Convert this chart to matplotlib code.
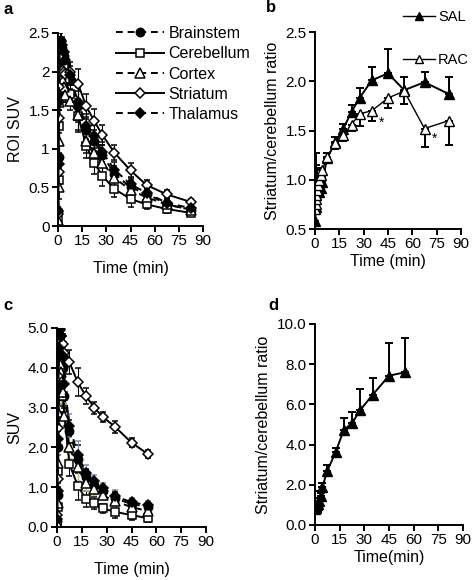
import matplotlib
import numpy as np

matplotlib.use("Agg")
import matplotlib.pyplot as plt  # noqa: E402
from matplotlib.lines import Line2D  # noqa: E402

plt.rcParams["font.family"] = ["Liberation Sans", "DejaVu Sans"]
plt.rcParams["font.size"] = 10

# frame mid-times (min)
T = [0.125, 0.375, 0.625, 0.875, 1.25, 1.75, 2.5, 3.5, 4.5, 7.5, 12.5,
     17.5, 22.5, 27.5, 35, 45, 55, 67.5, 82.5]
T_SHORT = T[:17]

# ---- panel a: ROI SUV, 90 min scan ----
REGIONS = ["Brainstem", "Cerebellum", "Cortex", "Striatum", "Thalamus"]
a_brainstem = [0.2, 0.9, 1.7, 2.2, 2.4, 2.4, 2.3, 2.2, 2.1, 1.9, 1.55, 1.25,
               1.1, 0.92, 0.68, 0.5, 0.42, 0.28, 0.21]
a_cerebellum = [0.1, 0.6, 1.3, 1.9, 2.25, 2.3, 2.2, 2.05, 1.9, 1.71, 1.42,
                1.04, 0.82, 0.65, 0.48, 0.35, 0.28, 0.22, 0.17]
a_cortex = [0.08, 0.5, 1.1, 1.6, 1.85, 1.95, 1.9, 1.8, 1.7, 1.62, 1.44, 1.1,
            0.94, 0.82, 0.62, 0.47, 0.37, 0.28, 0.21]
a_striatum = [0.15, 0.7, 1.4, 1.8, 1.95, 2.0, 2.02, 2.0, 1.97, 2.0, 1.84,
              1.55, 1.36, 1.18, 0.95, 0.72, 0.53, 0.41, 0.31]
a_thalamus = [0.2, 0.8, 1.6, 2.1, 2.35, 2.4, 2.35, 2.25, 2.15, 1.95, 1.6,
              1.29, 1.16, 0.96, 0.73, 0.54, 0.43, 0.30, 0.23]
a_err = [0.05, 0.15, 0.2, 0.2, 0.15, 0.12, 0.1, 0.1, 0.1, 0.12, 0.2, 0.16,
         0.15, 0.13, 0.1, 0.1, 0.06, 0.05, 0.04]

# ---- panel b: striatum/cerebellum ratio, saline vs raclopride ----
b_sal = [0.58, 0.72, 0.85, 0.95, 1.0, 0.9, 0.88, 0.92, 0.98, 1.22, 1.38,
         1.52, 1.69, 1.83, 2.01, 2.08, 1.91, 1.99, 1.87]
b_sal_err = [0.1, 0.55, 0.3, 0.15, 0.12, 0.08, 0.06, 0.05, 0.05, 0.05, 0.05,
             0.05, 0.07, 0.1, 0.13, 0.25, 0.13, 0.1, 0.17]
b_rac = [0.7, 0.75, 0.8, 0.85, 0.9, 0.95, 1.0, 1.05, 1.1, 1.23, 1.37, 1.45,
         1.56, 1.67, 1.70, 1.83, 1.90, 1.52, 1.60]
b_rac_err = [0.05, 0.05, 0.05, 0.05, 0.05, 0.05, 0.05, 0.05, 0.05, 0.06, 0.06,
             0.06, 0.06, 0.12, 0.1, 0.1, 0.13, 0.19, 0.25]

# ---- panel c: SUV, 60 min scan ----
c_brainstem = [0.15, 0.8, 2.0, 3.3, 4.3, 4.8, 4.6, 4.0, 3.3, 2.4, 1.7, 1.25,
               1.05, 0.9, 0.72, 0.58, 0.5]
c_cerebellum = [0.1, 0.5, 1.4, 2.8, 3.8, 4.2, 3.9, 3.3, 2.8, 1.58, 1.04,
                0.70, 0.60, 0.47, 0.38, 0.30, 0.22]
c_cortex = [0.1, 0.6, 1.6, 2.9, 3.8, 4.1, 3.9, 3.4, 2.8, 2.0, 1.5, 1.1, 0.95,
            0.8, 0.65, 0.5, 0.4]
c_striatum = [0.3, 1.2, 2.5, 3.8, 4.7, 4.95, 4.8, 4.6, 4.36, 4.14, 3.64,
              3.29, 3.0, 2.77, 2.52, 2.12, 1.83]
c_thalamus = [0.2, 0.9, 2.2, 3.5, 4.5, 5.0, 4.8, 4.3, 3.6, 2.55, 1.82, 1.35,
              1.15, 0.98, 0.78, 0.62, 0.55]
c_err = [0.1, 0.3, 0.4, 0.4, 0.3, 0.25, 0.25, 0.25, 0.3, 0.3, 0.35, 0.2,
         0.15, 0.12, 0.15, 0.12, 0.1]

# ---- panel d: striatum/cerebellum ratio ----
d_ratio = [0.8, 0.85, 0.9, 0.95, 1.0, 1.05, 1.2, 1.45, 1.9, 2.7, 3.62, 4.73,
           5.06, 5.72, 6.47, 7.43, 7.6]
d_err = [0.9, 0.3, 0.2, 0.15, 0.15, 0.15, 0.15, 0.15, 0.2, 0.29, 0.22, 0.61,
         0.54, 1.05, 0.86, 1.61, 1.7]

STYLE = {
    "Brainstem": dict(ls="--", marker="o", mfc="black"),
    "Cerebellum": dict(ls="-", marker="s", mfc="white"),
    "Cortex": dict(ls="--", marker="^", mfc="white"),
    "Striatum": dict(ls="-", marker="D", mfc="white"),
    "Thalamus": dict(ls="--", marker="D", mfc="black"),
}
MSIZE = {"o": 6, "s": 6, "^": 6.5, "D": 5.5}


def px_axes(fig, left, top, right, bottom, W=472, H=580):
    return fig.add_axes([left / W, 1 - bottom / H, (right - left) / W,
                         (bottom - top) / H])


def style_axes(ax, xlim, ylim, yticks, yfmt):
    ax.set_xlim(*xlim)
    ax.set_ylim(*ylim)
    ax.set_xticks(range(0, 91, 15))
    ax.set_yticks(yticks)
    ax.set_yticklabels([yfmt(v) for v in yticks])
    for s in ("top", "right"):
        ax.spines[s].set_visible(False)
    for s in ("left", "bottom"):
        ax.spines[s].set_linewidth(1.4)
    ax.tick_params(direction="out", length=4, width=1.4, labelsize=11, pad=2)


def line_kw(name):
    st = STYLE[name]
    kw = dict(color="black", ls=st["ls"], lw=1.4, marker=st["marker"],
              ms=MSIZE[st["marker"]], mfc=st["mfc"], mec="black", mew=1.1)
    if st["ls"] == "--":
        kw["dashes"] = (3.5, 2.5)
    return kw


def region_plot(ax, t, series, err, errcol=None):
    for name, y in zip(REGIONS, series):
        ax.errorbar(t, y, yerr=err, elinewidth=0.8, capsize=2.5,
                    ecolor=(errcol or {}).get(name, "black"), **line_kw(name))


fig = plt.figure(figsize=(4.72, 5.80), dpi=100)

# panel a
ax = px_axes(fig, 58, 33, 203, 226)
region_plot(ax, T, [a_brainstem, a_cerebellum, a_cortex, a_striatum, a_thalamus], a_err)
style_axes(ax, (0, 90), (0, 2.5), [0, 0.5, 1, 1.5, 2, 2.5], lambda v: f"{v:g}")
ax.set_ylabel("ROI SUV", fontsize=11.5, labelpad=4)
ax.set_xlabel("Time (min)", fontsize=11.5, labelpad=9)
handles = [Line2D([], [], **line_kw(n)) for n in REGIONS]
ax.legend(handles, REGIONS, loc="upper left",
          bbox_to_anchor=(116 / 472, 1 - 26 / 580),
          bbox_transform=fig.transFigure, frameon=False, fontsize=11.5,
          handlelength=3.0, handletextpad=0.3, labelspacing=0.33,
          borderaxespad=0, borderpad=0)
fig.text(3 / 472, 1 - 10 / 580, "a", fontsize=12, fontweight="bold", va="center")

# panel b
ax = px_axes(fig, 315, 32, 461, 229)
ax.errorbar(T, b_sal, yerr=[np.zeros(len(T)), b_sal_err], color="black", lw=1.4,
            marker="^", ms=6.5, mfc="black", mec="black", elinewidth=1.4,
            capsize=3, capthick=1.4)
ax.errorbar(T, b_rac, yerr=[b_rac_err, np.zeros(len(T))], color="black", lw=1.0,
            marker="^", ms=6.5, mfc="white", mec="black", elinewidth=1.4,
            capsize=3, capthick=1.4)
style_axes(ax, (0, 90), (0.5, 2.5), [0.5, 1.0, 1.5, 2.0, 2.5], lambda v: f"{v:.1f}")
ax.text(41, 1.58, "*", fontsize=10, ha="center", va="center")
ax.text(73.5, 1.42, "*", fontsize=10, ha="center", va="center")
ax.set_ylabel("Striatum/cerebellum ratio", fontsize=11.5, labelpad=4)
ax.set_xlabel("Time (min)", fontsize=11.5, labelpad=2)
b_handles = [Line2D([], [], color="black", lw=1.0, marker="^", ms=5.5,
                    mfc=fc, mec="black") for fc in ("black", "white")]
ax.legend(b_handles, ["SAL", "RAC"], loc="upper left",
          bbox_to_anchor=(403 / 472, 1 - 10 / 580),
          bbox_transform=fig.transFigure, frameon=False, fontsize=10.5,
          handlelength=2.2, handletextpad=0.2, labelspacing=2.0,
          borderaxespad=0, borderpad=0)
fig.text(266 / 472, 1 - 8 / 580, "b", fontsize=12, fontweight="bold", va="center")

# panel c
ax = px_axes(fig, 57, 328, 206, 527)
region_plot(ax, T_SHORT, [c_brainstem, c_cerebellum, c_cortex, c_striatum, c_thalamus],
            c_err, errcol={"Cortex": "#b5cc6a", "Thalamus": "#6f8db5"})
style_axes(ax, (0, 90), (0, 5), [0, 1, 2, 3, 4, 5], lambda v: f"{v:.1f}")
ax.set_ylabel("SUV", fontsize=11.5, labelpad=4)
ax.set_xlabel("Time (min)", fontsize=11.5, labelpad=9)
fig.text(3 / 472, 1 - 305 / 580, "c", fontsize=12, fontweight="bold", va="center")

# panel d
ax = px_axes(fig, 315, 324, 463, 525)
ax.errorbar(T_SHORT, d_ratio, yerr=[np.zeros(len(T_SHORT)), d_err], color="black",
            lw=1.4, marker="^", ms=7, mfc="black", mec="black", elinewidth=1.4,
            capsize=3, capthick=1.4)
style_axes(ax, (0, 90), (0, 10), [0, 2, 4, 6, 8, 10], lambda v: f"{v:.1f}")
ax.set_ylabel("Striatum/cerebellum ratio", fontsize=11.5, labelpad=4)
ax.set_xlabel("Time(min)", fontsize=11.5, labelpad=2)
fig.text(268 / 472, 1 - 305 / 580, "d", fontsize=12, fontweight="bold", va="center")

fig.savefig("out.png", dpi=100)
